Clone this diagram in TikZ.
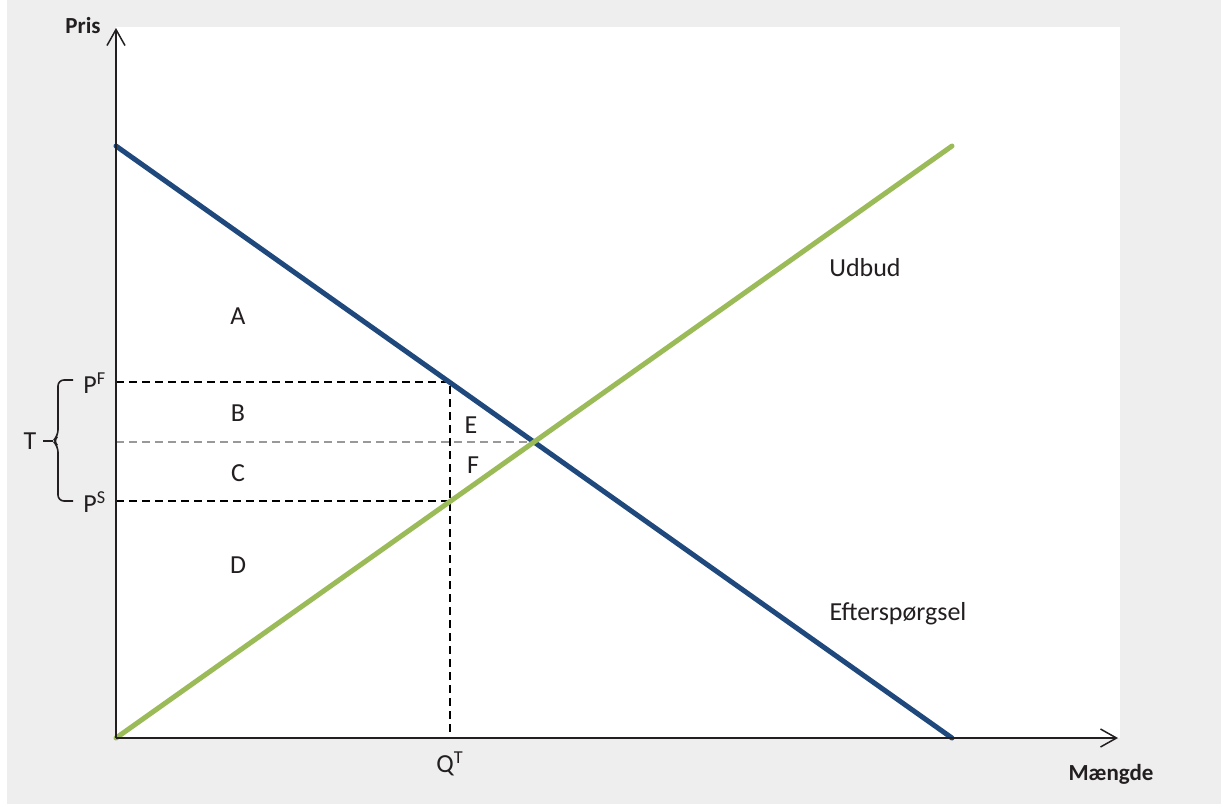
\documentclass[tikz,border=0pt]{standalone}
\usepackage{fontspec}
\setmainfont{Carlito}
\usetikzlibrary{arrows.meta}
\definecolor{demandblue}{HTML}{1F497D}
\definecolor{supplygreen}{HTML}{9BBB59}
\definecolor{panelgrey}{HTML}{EEEEEE}
\definecolor{inkgrey}{HTML}{231F20}
\definecolor{eqgrey}{HTML}{999999}

\begin{document}
\begin{tikzpicture}[x=0.5pt, y=-0.5pt,
  every node/.style={inner sep=0pt, anchor=base, text=inkgrey, font=\fontsize{13}{15}\selectfont},
  axis/.style={draw=inkgrey, line width=0.75pt, -{Straight Barb[length=8pt, width=9pt]}},
  curve/.style={line width=2.5pt, line cap=round},
  guide/.style={line width=1.3pt, dash pattern=on 4pt off 2.5pt},
  axtitle/.style={font=\bfseries\fontsize{11.5}{14}\selectfont}]
  % background and plot area
  \fill[white] (0,0) rectangle (1221,804);
  \fill[panelgrey] (7,0) rectangle (1221,804);
  \fill[white] (116,27) rectangle (1120,738);
  \useasboundingbox (0,0) rectangle (1221,804);

  % points
  \coordinate (origin) at (116,738);
  \coordinate (ytip) at (116,28);
  \coordinate (xtip) at (1118,738);
  \coordinate (dstart) at (116,146);
  \coordinate (dend) at (952,738);
  \coordinate (send) at (952,146);
  \coordinate (eq) at (534,442);
  \coordinate (peq) at (116,442);
  \coordinate (pf) at (116,382);
  \coordinate (ps) at (116,501);
  \coordinate (qt) at (450,738);
  \coordinate (pfq) at (450,382);
  \coordinate (psq) at (450,501);

  % guides
  \draw[guide, eqgrey] (peq) -- (eq);
  \draw[guide] (pf) -- (pfq) -- (qt);
  \draw[guide] (ps) -- (psq);

  % curves
  \draw[curve, demandblue] (dstart) -- (dend);
  \draw[curve, supplygreen] (origin) -- (send);

  % axes
  \draw[axis] (origin) -- (ytip);
  \draw[axis] (origin) -- (xtip);

  % labels
  \node[axtitle] (pris) at (83,33) {Pris};
  \node[axtitle] (maengde) at (1111,780) {Mængde};
  \node (udbud) at (865,276) {Udbud};
  \node (eftersp) at (898,620) {Efterspørgsel};
  \node (qlabel) at (450,772) {Q\textsuperscript{T}};
  \node[anchor=base west] (pflabel) at (83,393) {P\textsuperscript{F}};
  \node[anchor=base west] (pslabel) at (83,512) {P\textsuperscript{S}};
  \node (tlabel) at (30,449) {T};
  \node (areaA) at (238,324) {A};
  \node (areaB) at (238,421) {B};
  \node (areaC) at (238,481) {C};
  \node (areaD) at (238,573) {D};
  \node (areaE) at (471,433) {E};
  \node (areaF) at (473,473) {F};

  % tax brace
  \coordinate (bracehigh) at (73,380);
  \coordinate (bracelow) at (73,501);
  \coordinate (bracetip) at (43,441);
  \draw[inkgrey, line width=0.8pt, rounded corners=3pt]
    (bracehigh) -| (58,436) -- (53,441) -- (58,446) |- (bracelow);
  \draw[inkgrey, line width=0.8pt] (bracetip) -- (53,441);
\end{tikzpicture}
\end{document}
